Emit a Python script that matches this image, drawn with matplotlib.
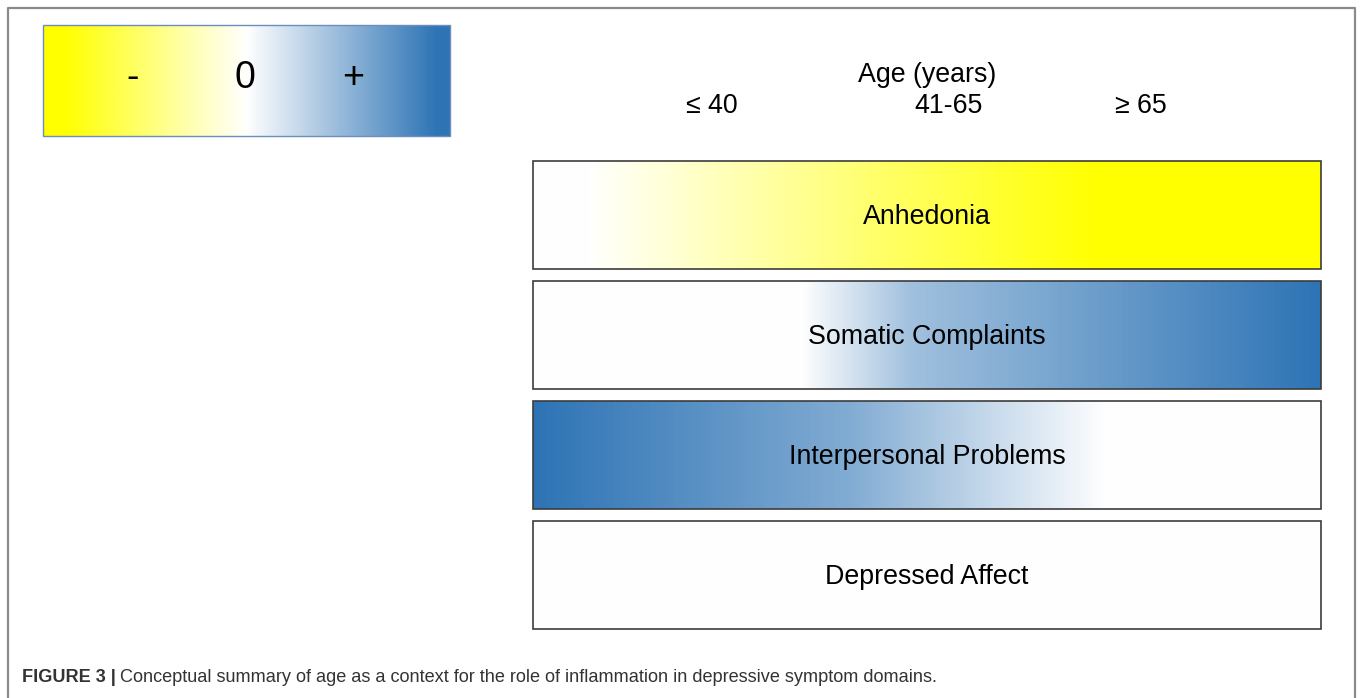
import numpy as np
import matplotlib
matplotlib.use("Agg")
import matplotlib.pyplot as plt
from matplotlib.colors import LinearSegmentedColormap

plt.rcParams["font.family"] = ["Liberation Sans", "DejaVu Sans"]

# symptom domains, top to bottom
domains = ["Anhedonia", "Somatic Complaints", "Interpersonal Problems", "Depressed Affect"]
age_title = "Age (years)"
age_groups = ["\u2264 40", "41-65", "\u2265 65"]
legend_marks = ["-", "0", "+"]

# gradient stops along the age axis (fraction of bar width -> association, -1 .. +1)
anhedonia_pos = [0.0, 0.07, 0.45, 0.72, 1.0]
anhedonia_val = [0.0, 0.0, -0.6, -1.0, -1.0]
somatic_pos = [0.0, 0.34, 0.48, 1.0]
somatic_val = [0.0, 0.0, 0.45, 1.0]
interp_pos = [0.0, 0.4, 0.73, 1.0]
interp_val = [1.0, 0.6, 0.0, 0.0]
depressed_pos = [0.0, 1.0]
depressed_val = [0.0, 0.0]
legend_pos = [0.0, 0.05, 0.5, 0.97, 1.0]
legend_val = [-1.0, -1.0, 0.0, 1.0, 1.0]

stops = [(anhedonia_pos, anhedonia_val), (somatic_pos, somatic_val),
         (interp_pos, interp_val), (depressed_pos, depressed_val)]

cmap = LinearSegmentedColormap.from_list("ywb", [(0, "#FFFF00"), (0.5, "#FFFFFF"), (1, "#2E74B5")])

fig = plt.figure(figsize=(13.62, 6.98), dpi=100)
ax = fig.add_axes([0, 0, 1, 1])
ax.set_xlim(0, 1362)
ax.set_ylim(698, 0)
ax.axis("off")


def gradient(x0, x1, y0, y1, pos, val, edge, lw):
    xs = np.linspace(0, 1, 600)
    row = np.interp(xs, pos, val)[None, :]
    ax.imshow(row, cmap=cmap, vmin=-1, vmax=1, extent=(x0, x1, y1, y0),
              aspect="auto", interpolation="bilinear", zorder=1)
    ax.add_patch(plt.Rectangle((x0, y0), x1 - x0, y1 - y0, fill=False,
                               edgecolor=edge, lw=lw, zorder=2))


# outer frame
ax.plot([8, 8, 1355, 1355], [698, 7.5, 7.5, 698], color="#8a8a8a", lw=1.6, zorder=3)

# legend
gradient(43, 450, 25, 136, legend_pos, legend_val, "#6C8EBF", 1.0)
for x, m in zip([133, 245, 353], legend_marks):
    ax.text(x, 78, m, ha="center", va="center", fontsize=27, zorder=4)

# age header
ax.text(927, 75, age_title, ha="center", va="center", fontsize=19.3)
for x, a in zip([712, 949, 1141], age_groups):
    ax.text(x, 106, a, ha="center", va="center", fontsize=19.3)

# domain bars
bx0, bx1 = 533, 1321
for i, (name, (p, v)) in enumerate(zip(domains, stops)):
    y0 = 161 + i * 120
    gradient(bx0, bx1, y0, y0 + 108, p, v, "#3c3c3c", 1.2)
    ax.text((bx0 + bx1) / 2, y0 + 56, name, ha="center", va="center", fontsize=19.3, zorder=4)

# caption
t1 = ax.text(22, 678, "FIGURE 3 |", ha="left", va="center", fontsize=13.1,
             fontweight="bold", color="#333333")
fig.canvas.draw()
bb = t1.get_window_extent()
x_next = ax.transData.inverted().transform((bb.x1, bb.y0))[0] + 4
ax.text(x_next, 678, "Conceptual summary of age as a context for the role of inflammation "
        "in depressive symptom domains.", ha="left", va="center", fontsize=13.1, color="#333333")

fig.savefig("out.png", dpi=100)
